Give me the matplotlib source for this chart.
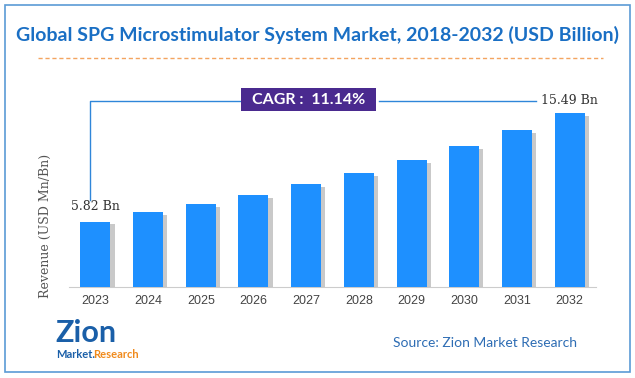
import matplotlib.pyplot as plt
import matplotlib.patheffects as pe
from matplotlib.patches import Rectangle
from matplotlib.lines import Line2D

# --- data ---
years = ['2023', '2024', '2025', '2026', '2027', '2028', '2029', '2030', '2031', '2032']
revenue = [5.82, 6.65, 7.35, 8.15, 9.15, 10.15, 11.3, 12.55, 13.95, 15.49]
cagr_text = 'CAGR :  11.14%'
first_label = '5.82 Bn'
last_label = '15.49 Bn'

W, H = 635, 378
fig = plt.figure(figsize=(W / 100, H / 100), dpi=100)


def fx(px):
    return px / W


def fy(py):
    return 1 - py / H


# outer border
fig.patches.append(Rectangle((fx(5), fy(372)), fx(625), 367 / H, transform=fig.transFigure,
                             fill=False, edgecolor='#5b9bd5', linewidth=1.2))

# title + dashed orange rule
fig.text(0.5, fy(35), 'Global SPG Microstimulator System Market, 2018-2032 (USD Billion)',
         ha='center', va='center', fontsize=14, fontweight='bold', color='#1a6fc4', family='Lato')
fig.lines.append(Line2D([fx(38), fx(603)], [fy(58), fy(58)], transform=fig.transFigure,
                        color='#f4a460', linewidth=1, linestyle=(0, (3, 2))))

ax = fig.add_axes([fx(69), fy(287), fx(596) - fx(69), (287 - 80) / H])
x = range(len(years))
bars = ax.bar(x, revenue, width=0.57, color='#1e90ff', zorder=3)
for b in bars:
    b.set_path_effects([pe.SimplePatchShadow(offset=(3, -2), shadow_rgbFace='#666666', alpha=0.35),
                        pe.Normal()])

ax.set_xlim(-0.5, len(years) - 0.5)
ax.set_ylim(0, 18.4)
ax.set_xticks(list(x))
ax.set_xticklabels(years, fontsize=9, color='#444444', family='Liberation Sans')
ax.tick_params(axis='x', length=0, pad=6)
ax.set_yticks([])
for s in ['top', 'right', 'left']:
    ax.spines[s].set_visible(False)
ax.spines['bottom'].set_color('#cccccc')

fig.text(fx(45), fy(226), 'Revenue (USD Mn/Bn)', rotation=90, ha='center', va='center',
         fontsize=9, color='#555555', family='DejaVu Serif')

# CAGR annotation
line_y = revenue[-1] + 1.07
ax.plot([-0.11, -0.11, 2.77], [revenue[0] + 1.95, line_y, line_y], color='#2f86d9',
        linewidth=1, clip_on=False, zorder=4)
ax.plot([5.38, 8.37], [line_y, line_y], color='#2f86d9', linewidth=1, clip_on=False, zorder=4)
ax.add_patch(Rectangle((2.77, line_y - 0.95), 2.55, 2.05, facecolor='#4a2a8f', edgecolor='none',
                       clip_on=False, zorder=4))
ax.text(4.045, line_y + 0.05, cagr_text, ha='center', va='center', color='white',
        fontsize=11.5, fontweight='bold', family='Lato', zorder=5)
ax.text(0, revenue[0] + 1.3, first_label, ha='center', va='center', fontsize=9,
        color='#333333', family='DejaVu Serif')
ax.text(len(years) - 1, line_y, last_label, ha='center', va='center', fontsize=9,
        color='#333333', family='DejaVu Serif', clip_on=False)

# logo (text approximation)
fig.text(fx(55), fy(333), 'Zion', ha='left', va='center', fontsize=22, fontweight='bold',
         color='#1a5fa8', family='Lato')
fig.text(fx(56), fy(355), 'Market.', ha='left', va='center', fontsize=8, fontweight='bold',
         color='#1a5fa8', family='Lato')
fig.text(fx(93), fy(355), 'Research', ha='left', va='center', fontsize=8, fontweight='bold',
         color='#f08a1c', family='Lato')

fig.text(fx(485), fy(343), 'Source: Zion Market Research', ha='center', va='center',
         fontsize=10, color='#2e6db4', family='Lato')

fig.savefig('out.png', dpi=100)
